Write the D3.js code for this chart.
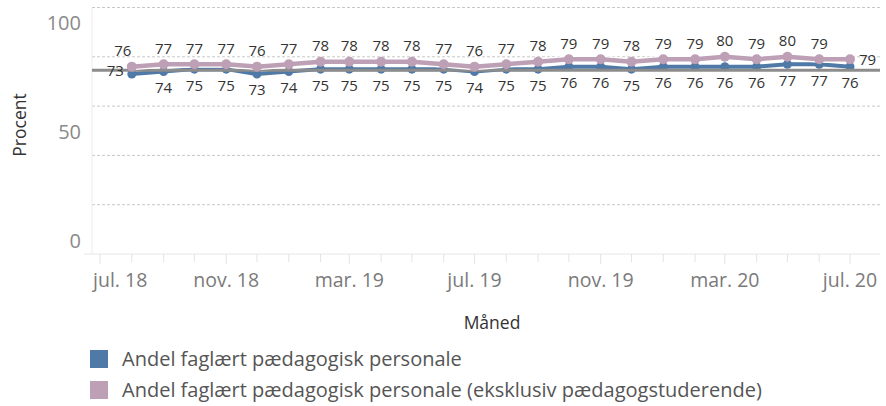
<!DOCTYPE html>
<html>
<head>
<meta charset="utf-8">
<script src="https://cdn.jsdelivr.net/npm/d3@7"></script>
<style>
  body { margin: 0; background: #fff; }
  text { font-family: "Open Sans", sans-serif; }
</style>
</head>
<body>
<div id="chart"></div>
<script>
// months (first of month), aug. 18 - jul. 20
var months = ["2018-08","2018-09","2018-10","2018-11","2018-12","2019-01","2019-02","2019-03",
              "2019-04","2019-05","2019-06","2019-07","2019-08","2019-09","2019-10","2019-11",
              "2019-12","2020-01","2020-02","2020-03","2020-04","2020-05","2020-06","2020-07"];
var faglaert = [73,74,75,75,73,74,75,75,75,75,75,74,75,75,76,76,75,76,76,76,76,77,77,76];
var faglaertEksklStud = [76,77,77,77,76,77,78,78,78,78,77,76,77,78,79,79,78,79,79,80,79,80,79,79];
var refValue = 74.5;
var yTicks = [0, 50, 100];
var xTickLabels = ["jul. 18","nov. 18","mar. 19","jul. 19","nov. 19","mar. 20","jul. 20"];
var legendLabels = ["Andel faglært pædagogisk personale",
                    "Andel faglært pædagogisk personale (eksklusiv pædagogstuderende)"];

var blue = "#4f79a6", pink = "#bea0b6";
var parse = d3.timeParse("%Y-%m");
var dates = months.map(parse);

var svg = d3.select("#chart").append("svg")
  .attr("width", 886).attr("height", 406);

var plotLeft = 92, plotRight = 880, plotTop = 7.5, plotBottom = 254;

var x = d3.scaleTime()
  .domain([parse("2018-07"), parse("2020-07")])
  .range([100, 850]);
var y = d3.scaleLinear().domain([0, 100]).range([plotBottom, plotTop]);
// tableau put the tick labels a bit off from the gridlines
var yLab = d3.scaleLinear().domain([0, 100]).range([241, 23]);

// gridlines
svg.append("g").selectAll("line")
  .data([20, 40, 60, 80, 100])
  .enter().append("line")
  .attr("x1", plotLeft).attr("x2", plotRight)
  .attr("y1", function(d) { return y(d); })
  .attr("y2", function(d) { return y(d); })
  .attr("stroke", "#c8c8c8")
  .attr("stroke-dasharray", "3,2");

// axis lines
svg.append("line").attr("x1", 84).attr("x2", plotRight).attr("y1", plotBottom).attr("y2", plotBottom)
  .attr("stroke", "#e6e6e6");
svg.append("line").attr("x1", plotLeft).attr("x2", plotLeft).attr("y1", plotTop).attr("y2", plotBottom)
  .attr("stroke", "#ececec");

// x ticks every month
var allMonths = d3.timeMonth.range(parse("2018-07"), parse("2020-08"));
svg.append("g").selectAll("line")
  .data(allMonths)
  .enter().append("line")
  .attr("x1", function(d) { return x(d); })
  .attr("x2", function(d) { return x(d); })
  .attr("y1", plotBottom)
  .attr("y2", function(d, i) { return i % 4 == 0 ? 264 : 262; })
  .attr("stroke", "#e3e3e3");

var labelDates = allMonths.filter(function(d, i) { return i % 4 == 0; });
svg.append("g").selectAll("text")
  .data(labelDates)
  .enter().append("text")
  .attr("x", function(d, i) { return i == 0 ? 93 : x(d); })
  .attr("y", 287)
  .attr("text-anchor", function(d, i) { return i == 0 ? "start" : "middle"; })
  .attr("font-size", 19.5)
  .attr("fill", "#7a7a7a")
  .text(function(d, i) { return xTickLabels[i]; });

// y tick labels
svg.append("g").selectAll("text")
  .data(yTicks)
  .enter().append("text")
  .attr("x", 81)
  .attr("y", function(d) { return yLab(d); })
  .attr("dy", "0.36em")
  .attr("text-anchor", "end")
  .attr("font-size", 20)
  .attr("fill", "#8a8a8a")
  .text(function(d) { return d; });

// axis titles
svg.append("text")
  .attr("transform", "translate(26,125) rotate(-90)")
  .attr("text-anchor", "middle")
  .attr("font-size", 17.5)
  .attr("fill", "#333")
  .text("Procent");
svg.append("text")
  .attr("x", 492).attr("y", 329)
  .attr("text-anchor", "middle")
  .attr("font-size", 17.5)
  .attr("fill", "#333")
  .text("Måned");

var line = d3.line()
  .x(function(d, i) { return x(dates[i]); })
  .y(function(d) { return y(d); });

function drawSeries(values, color, width, r) {
  var g = svg.append("g");
  g.append("path").datum(values)
    .attr("d", line)
    .attr("fill", "none")
    .attr("stroke", "#fff")
    .attr("stroke-width", width + 2.5)
    .attr("stroke-linejoin", "round");
  g.append("path").datum(values)
    .attr("d", line)
    .attr("fill", "none")
    .attr("stroke", color)
    .attr("stroke-width", width)
    .attr("stroke-linejoin", "round");
  g.selectAll("circle")
    .data(values)
    .enter().append("circle")
    .attr("cx", function(d, i) { return x(dates[i]); })
    .attr("cy", function(d) { return y(d); })
    .attr("r", r)
    .attr("fill", color);
}

drawSeries(faglaert, blue, 4, 4.5);

// reference line
svg.append("line")
  .attr("x1", plotLeft).attr("x2", plotRight)
  .attr("y1", y(refValue)).attr("y2", y(refValue))
  .attr("stroke", "#8c8c8c")
  .attr("stroke-width", 3);

drawSeries(faglaertEksklStud, pink, 4.5, 5);

// data labels
svg.append("g").selectAll("text")
  .data(faglaert)
  .enter().append("text")
  .attr("x", function(d, i) { return i == 0 ? x(dates[i]) - 8 : x(dates[i]); })
  .attr("y", function(d, i) { return i == 0 ? y(d) - 3 : y(d) + 16; })
  .attr("dy", "0.36em")
  .attr("text-anchor", function(d, i) { return i == 0 ? "end" : "middle"; })
  .attr("font-size", 15)
  .attr("fill", "#333")
  .text(function(d) { return d; });

svg.append("g").selectAll("text")
  .data(faglaertEksklStud)
  .enter().append("text")
  .attr("x", function(d, i) {
    if (i == faglaertEksklStud.length - 1) return x(dates[i]) + 9;
    return i == 0 ? x(dates[i]) - 9 : x(dates[i]);
  })
  .attr("y", function(d, i) { return i == faglaertEksklStud.length - 1 ? y(d) : y(d) - 16; })
  .attr("dy", "0.36em")
  .attr("text-anchor", function(d, i) { return i == faglaertEksklStud.length - 1 ? "start" : "middle"; })
  .attr("font-size", 15)
  .attr("fill", "#333")
  .text(function(d) { return d; });

// legend
var legend = svg.append("g").selectAll("g")
  .data(legendLabels)
  .enter().append("g")
  .attr("transform", function(d, i) { return "translate(90," + (350 + i * 31) + ")"; });
legend.append("rect")
  .attr("width", 18).attr("height", 18)
  .attr("fill", function(d, i) { return i == 0 ? blue : pink; });
legend.append("text")
  .attr("x", 32).attr("y", 9)
  .attr("dy", "0.36em")
  .attr("font-size", 20)
  .attr("fill", "#555")
  .text(function(d) { return d; });
</script>
</body>
</html>
